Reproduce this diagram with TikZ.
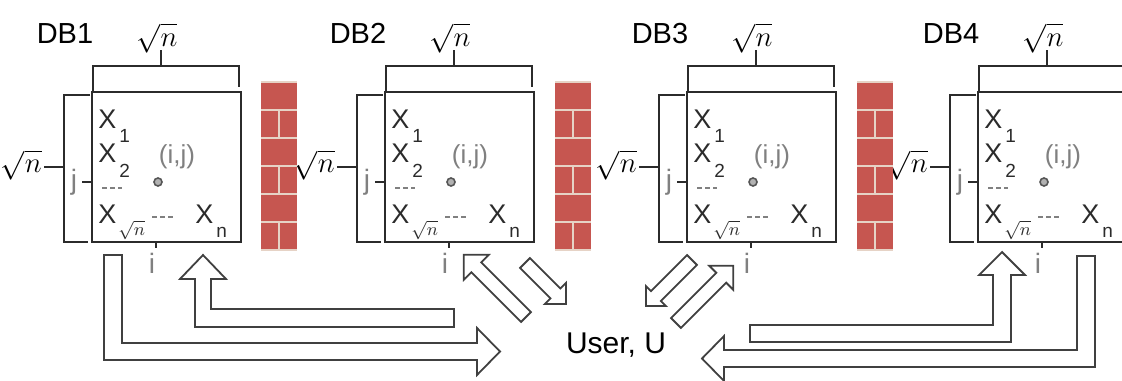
\documentclass[tikz,border=0pt]{standalone}
\usepackage{fontspec}
\setmainfont{Liberation Sans}

\definecolor{ink}{HTML}{2B2B2B}
\definecolor{brick}{HTML}{C65650}
\definecolor{mortar}{HTML}{E6D3C6}

\newcommand{\dbsz}{\fontsize{14.5}{16}\selectfont}
\newcommand{\xsz}{\fontsize{13.5}{15}\selectfont}
\newcommand{\subsz}{\fontsize{9.5}{10}\selectfont}
\newcommand{\ijsz}{\fontsize{14}{15}\selectfont}
\newcommand{\rootsz}{\fontsize{14}{15}\selectfont}

% hollow straight arrow: tail point, angle, length, head half width
\newcommand{\fatarrow}[4]{%
  \draw[hollow, shift={#1}, rotate=#2]
    (0,-7) -- (#3-#4,-7) -- (#3-#4,-#4) -- (#3,0) -- (#3-#4,#4) -- (#3-#4,7) -- (0,7) -- cycle;}

\tikzset{
  frame/.style={draw=ink, line width=1pt},
  tick/.style={draw=ink, line width=0.8pt},
  hollow/.style={draw=ink!90, line width=0.9pt, fill=white, line join=miter},
  idx/.style={text=black!50, inner sep=0pt},
}

\begin{document}
\begin{tikzpicture}[x=0.5pt, y=-0.5pt]
  \useasboundingbox (0,0) rectangle (1122,380);
  \clip (0,0) rectangle (1122,380);

  % the four databases
  \foreach \L/\k in {92/1, 385/2, 687/3, 978/4}{
    \draw[frame] (\L,92) rectangle (\L+149,242);
    \node[anchor=base, inner sep=0pt] (db\k) at (\L-27,43) {\dbsz DB\k};

    % column bracket
    \draw[frame] (\L+1,92) -- (\L+1,66) -- (\L+147,66) -- (\L+147,87);
    \draw[frame] (\L+69,66) -- (\L+69,50);
    \node[anchor=base, inner sep=0pt] (cols\k) at (\L+65,46) {\rootsz$\sqrt{n}$};

    % row bracket
    \draw[frame] (\L-2,95) -- (\L-28,95) -- (\L-28,242) -- (\L-4,242);
    \draw[frame] (\L-28,167) -- (\L-48,167);
    \node[anchor=east, inner sep=1pt] (rows\k) at (\L-48,165) {\rootsz$\sqrt{n}$};

    % indices
    \draw[tick] (\L-10,182) -- (\L,182);
    \node[idx, anchor=base] (j\k) at (\L-18,189) {\ijsz j};
    \draw[tick] (\L+64,242) -- (\L+64,248);
    \node[idx, anchor=base] (i\k) at (\L+60,273) {\ijsz i};

    % entries
    \node[anchor=base west, inner sep=0pt, text=ink] (xa\k) at (\L+6,128)
      {\xsz X\hspace{1.5pt}\raisebox{-7pt}{\subsz 1}};
    \node[anchor=base west, inner sep=0pt, text=ink] (xb\k) at (\L+6,162)
      {\xsz X\hspace{1.5pt}\raisebox{-7.5pt}{\subsz 2}};
    \node[anchor=base west, inner sep=0pt, text=ink] (xr\k) at (\L+6,223)
      {\xsz X\hspace{1pt}\raisebox{-6pt}{\subsz$\sqrt{n}$}};
    \node[anchor=base west, inner sep=0pt, text=ink] (xn\k) at (\L+103,223)
      {\xsz X\hspace{1.5pt}\raisebox{-7pt}{\subsz n}};
    \draw[black!50, line width=0.6pt, dash pattern=on 2.5pt off 1.5pt] (\L+10,188) -- (\L+30,188);
    \draw[black!50, line width=0.6pt, dash pattern=on 2.5pt off 1.5pt] (\L+60,217) -- (\L+81,217);
    \node[idx] (ij\k) at (\L+85,157) {\fontsize{13}{14}\selectfont (i,j)};
    \draw[ink!80, line width=0.8pt, fill=black!30] (\L+66,182) circle[radius=2pt];
  }

  % firewalls
  \foreach \W in {261, 555, 857}{
    \fill[brick] (\W,82) rectangle (\W+36,250);
    \foreach \y in {82,110,138,166,194,222,250}
      \draw[mortar, line width=1.1pt] (\W,\y) -- (\W+36,\y);
    \foreach \y in {110,166,222}
      \draw[mortar, line width=0.9pt] (\W+18,\y) -- (\W+18,\y+28);
  }

  \node[anchor=base, inner sep=0pt] (user) at (616,353) {\fontsize{15}{16}\selectfont User, U};

  % DB1 <-> user
  \draw[hollow] (104,255) -- (122,255) -- (122,343) -- (477,343) -- (477,328) -- (500,351.5)
    -- (477,375) -- (477,360) -- (104,360) -- cycle;
  \draw[hollow] (454,309) -- (211,309) -- (211,279) -- (226,279) -- (203,255) -- (180,279)
    -- (195,279) -- (195,327) -- (454,327) -- cycle;

  % DB2, DB3 <-> user
  \fatarrow{(526,317)}{135}{88}{17.7}
  \fatarrow{(525,263)}{-45}{58}{15}
  \fatarrow{(692,260)}{-135}{65}{14}
  \fatarrow{(676,323)}{45}{81}{17}

  % DB4 <-> user
  \draw[hollow] (750,325) -- (993,325) -- (993,275) -- (979,275) -- (1002,252) -- (1025,275)
    -- (1011,275) -- (1011,342) -- (750,342) -- cycle;
  \draw[hollow] (1077,256) -- (1095,256) -- (1095,367) -- (724,367) -- (724,381) -- (702,358.5)
    -- (724,336) -- (724,350) -- (1077,350) -- cycle;
\end{tikzpicture}
\end{document}
